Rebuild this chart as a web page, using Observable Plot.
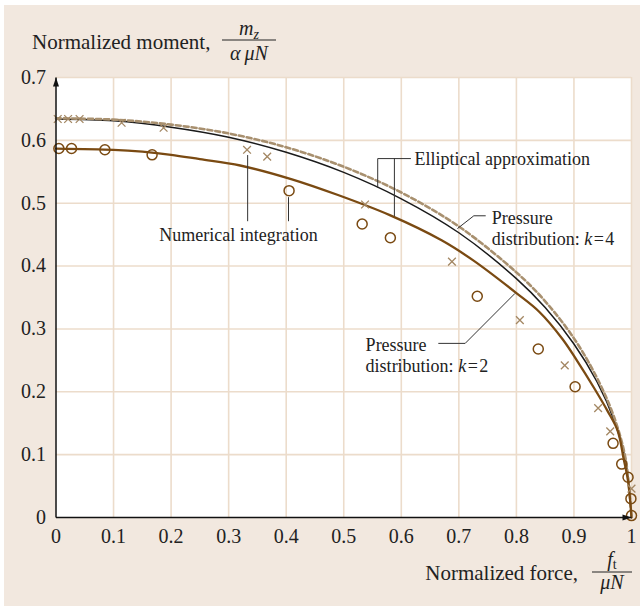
<!DOCTYPE html>
<html><head><meta charset="utf-8">
<script src="https://cdn.jsdelivr.net/npm/d3@7"></script>
<script src="https://cdn.jsdelivr.net/npm/@observablehq/plot@0.6"></script>
<style>
html,body{margin:0;padding:0;background:#fff;}
#wrap{position:relative;width:640px;height:606px;overflow:hidden;}
#panel{position:absolute;left:4px;top:5px;width:636px;height:601px;background:#f2e8df;}
#chart{position:absolute;left:0;top:0;}
</style></head><body>
<div id="wrap"><div id="panel"></div><div id="chart"></div></div>
<script>
// ---- data ----
const curveX       = [0, 0.1, 0.2, 0.3, 0.4, 0.5, 0.6, 0.7, 0.8, 0.85, 0.9, 0.94, 0.97, 0.99, 1];
const ellipticalY  = [0.634, 0.631, 0.621, 0.605, 0.581, 0.549, 0.507, 0.453, 0.380, 0.334, 0.276, 0.216, 0.154, 0.089, 0];
const pressureK4Y  = [0.635, 0.633, 0.625, 0.611, 0.589, 0.558, 0.517, 0.463, 0.390, 0.344, 0.285, 0.222, 0.159, 0.092, 0];
const k2X          = [0, 0.1, 0.15, 0.2, 0.25, 0.32, 0.41, 0.49, 0.58, 0.67, 0.725, 0.8, 0.84, 0.88, 0.905, 0.935, 0.958, 0.976, 0.986, 0.994, 1];
const pressureK2Y  = [0.587, 0.585, 0.582, 0.577, 0.570, 0.560, 0.538, 0.513, 0.481, 0.441, 0.409, 0.357, 0.327, 0.284, 0.250, 0.206, 0.170, 0.138, 0.095, 0.058, 0];
const crossX = [0.003, 0.021, 0.041, 0.114, 0.187, 0.332, 0.367, 0.537, 0.688, 0.806, 0.884, 0.942, 0.963, 1.0];
const crossY = [0.634, 0.634, 0.634, 0.628, 0.620, 0.585, 0.574, 0.498, 0.407, 0.314, 0.242, 0.174, 0.137, 0.046];
const circleX = [0.005, 0.027, 0.085, 0.167, 0.405, 0.532, 0.581, 0.732, 0.838, 0.902, 0.968, 0.983, 0.994, 0.999, 1.0];
const circleY = [0.587, 0.587, 0.585, 0.577, 0.520, 0.467, 0.445, 0.352, 0.268, 0.208, 0.118, 0.085, 0.064, 0.030, 0.003];
const xTicks = [0, 0.1, 0.2, 0.3, 0.4, 0.5, 0.6, 0.7, 0.8, 0.9, 1];
const yTicks = [0, 0.1, 0.2, 0.3, 0.4, 0.5, 0.6, 0.7];
// annotation labels and leader lines (data coordinates)
const labelText = ["Elliptical approximation", "Pressure\ndistribution: k=4", "Pressure\ndistribution: k=2", "Numerical integration"];
const labelX    = [0.623, 0.757, 0.538, 0.317];
const labelY    = [0.571, 0.461, 0.259, 0.449];
const labelAnchor = ["start", "start", "start", "middle"];
const leaderId = ["e1","e1","e1","e2","e2","k4","k4","k4","k2","k2","k2","n1","n1","n2","n2"];
const leaderX  = [0.616,0.559,0.559, 0.588,0.588, 0.746,0.726,0.698, 0.665,0.711,0.797, 0.333,0.333, 0.404,0.404];
const leaderY  = [0.571,0.571,0.525, 0.571,0.480, 0.480,0.480,0.460, 0.277,0.277,0.356, 0.576,0.472, 0.509,0.472];

// ---- tables ----
const ell = curveX.map((x,i)=>({x, y: ellipticalY[i]}));
const k4  = curveX.map((x,i)=>({x, y: pressureK4Y[i]}));
const k2  = k2X.map((x,i)=>({x, y: pressureK2Y[i]}));
const crosses = crossX.map((x,i)=>({x, y: crossY[i]}));
const circles = circleX.map((x,i)=>({x, y: circleY[i]}));
const labels = labelText.map((t,i)=>({t, x: labelX[i], y: labelY[i], a: labelAnchor[i]}));
const leaders = leaderId.map((id,i)=>({id, x: leaderX[i], y: leaderY[i]}));

const serif = "'Liberation Serif','Times New Roman',serif";
const fmt = d3.format("~g");

const plot = Plot.plot({
  width: 640, height: 606,
  marginLeft: 55.5, marginRight: 9, marginTop: 77, marginBottom: 89,
  style: {background: "transparent", fontFamily: serif, fontSize: "20px", color: "#222", overflow: "visible"},
  x: {domain: [0, 1], ticks: xTicks, tickFormat: fmt, tickSize: 0, tickPadding: 11, label: null},
  y: {domain: [0, 0.7], ticks: yTicks, tickFormat: fmt, tickSize: 0, tickPadding: 10, label: null},
  marks: [
    Plot.rect([{x1: 0, x2: 1, y1: 0, y2: 0.7}], {x1: "x1", x2: "x2", y1: "y1", y2: "y2", fill: "white"}),
    Plot.ruleX(xTicks.filter(d => d > 0), {stroke: "#ecdccb", strokeWidth: 1.6}),
    Plot.ruleY(yTicks.filter(d => d > 0), {stroke: "#ecdccb", strokeWidth: 1.6}),
    Plot.line(ell, {x: "x", y: "y", stroke: "#1a1a1a", strokeWidth: 1.5, curve: "catmull-rom"}),
    Plot.line(k4, {x: "x", y: "y", stroke: "#a8906f", strokeWidth: 2.6, strokeDasharray: "5,3", curve: "catmull-rom"}),
    Plot.line(k2, {x: "x", y: "y", stroke: "#7a4a12", strokeWidth: 2.3, curve: "catmull-rom"}),
    Plot.dot(crosses, {x: "x", y: "y", symbol: "times", r: 3.6, stroke: "#a38763", strokeWidth: 1.3}),
    Plot.dot(circles, {x: "x", y: "y", r: 5, stroke: "#7a4a12", strokeWidth: 1.5, fill: "none"}),
    Plot.link([{x1: 0, y1: 0, x2: 1, y2: 0}, {x1: 0, y1: 0, x2: 0, y2: 0.7}],
      {x1: "x1", y1: "y1", x2: "x2", y2: "y2", stroke: "#111", strokeWidth: 1.5, markerEnd: "arrow"}),
    Plot.line(leaders, {x: "x", y: "y", z: "id", stroke: "#333", strokeWidth: 1}),
    Plot.text(labels.filter(d => d.a === "start"), {x: "x", y: "y", text: "t", textAnchor: "start", fontSize: 18, fill: "#222", lineHeight: 1.15}),
    Plot.text(labels.filter(d => d.a === "middle"), {x: "x", y: "y", text: "t", textAnchor: "middle", fontSize: 18, fill: "#222"})
  ]
});
document.getElementById("chart").appendChild(plot);

const svg = d3.select(plot);
// filled arrowheads
svg.selectAll("marker").attr("overflow", "visible").attr("fill", "#111").attr("stroke", "none")
  .select("path").attr("d", "M-9,-3L0,0L-9,3Z");
// italic k in labels
svg.selectAll("tspan").each(function() {
  const t = this.textContent;
  const m = t.match(/^(.*)k=(\d)$/);
  if (m) {
    const s = d3.select(this);
    s.text(m[1]);
    s.append("tspan").attr("font-style", "italic").text("k");
    s.append("tspan").text("\u200A=\u200A" + m[2]);
  }
});

// axis titles
const g = svg.append("g").attr("font-family", serif).attr("fill", "#222").attr("text-anchor", "start");
g.append("text").attr("x", 32).attr("y", 49).attr("font-size", 21).attr("text-anchor", "start").text("Normalized moment,");
const num1 = g.append("text").attr("x", 249).attr("y", 35).attr("font-size", 20).attr("text-anchor", "middle");
num1.append("tspan").attr("font-style", "italic").text("m");
num1.append("tspan").attr("font-style", "italic").attr("font-size", 14).attr("dy", 4).text("z");
g.append("line").attr("x1", 222).attr("x2", 276).attr("y1", 40).attr("y2", 40).attr("stroke", "#222").attr("stroke-width", 1);
g.append("text").attr("x", 249).attr("y", 60).attr("font-size", 20).attr("text-anchor", "middle")
  .attr("font-style", "italic").text("\u03B1\u2009\u03BCN");

g.append("text").attr("x", 578).attr("y", 580).attr("font-size", 21).attr("text-anchor", "end").text("Normalized force,");
const num2 = g.append("text").attr("x", 612).attr("y", 566).attr("font-size", 20).attr("text-anchor", "middle");
num2.append("tspan").attr("font-style", "italic").text("f");
num2.append("tspan").attr("font-size", 14).attr("dy", 3).text("t");
g.append("line").attr("x1", 592).attr("x2", 632).attr("y1", 572).attr("y2", 572).attr("stroke", "#222").attr("stroke-width", 1);
g.append("text").attr("x", 612).attr("y", 589).attr("font-size", 20).attr("text-anchor", "middle")
  .attr("font-style", "italic").text("\u03BCN");
</script>
</body></html>
